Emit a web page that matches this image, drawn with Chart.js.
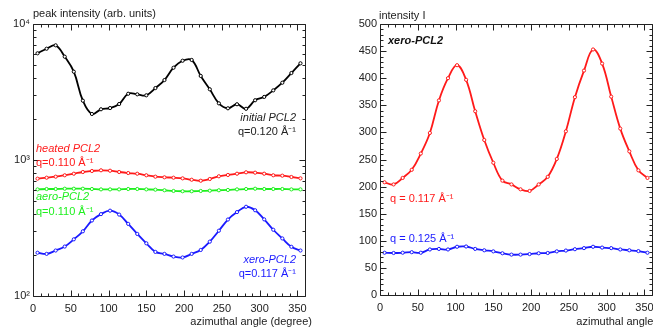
<!DOCTYPE html>
<html>
<head>
<meta charset="utf-8">
<title>PCL2 azimuthal profiles</title>
<script src="https://cdn.jsdelivr.net/npm/chart.js@4.4.1/dist/chart.umd.min.js"></script>
<style>
  html, body { margin: 0; padding: 0; background: #fff; }
  #wrap { position: relative; width: 653px; height: 328px; overflow: hidden; }
  #left { position: absolute; left: 0; top: 0; }
  #right { position: absolute; left: 330px; top: 0; }
</style>
</head>
<body>
<div id="wrap">
  <canvas id="left" width="330" height="328"></canvas>
  <canvas id="right" width="380" height="328"></canvas>
</div>
<script>
// azimuthal angle of each point (degree)
var angles = [6, 18, 30, 42, 54, 66, 78, 90, 102, 114, 126, 138, 150, 162, 174,
              186, 198, 210, 222, 234, 246, 258, 270, 282, 294, 306, 318, 330, 342, 354];

// peak intensities (arb. units), left panel
var initialPCL2 = [6090, 6580, 6970, 5750, 4460, 2730, 2180, 2360, 2410, 2580, 3070, 3040, 2990, 3380, 3870,
                   4770, 5370, 5440, 4150, 3310, 2610, 2400, 2570, 2380, 2750, 2910, 3250, 3700, 4360, 5140];
var heatedPCL2 = [729, 741, 754, 772, 793, 816, 830, 840, 834, 816, 802, 793, 772, 754, 746,
                  741, 733, 716, 704, 725, 759, 776, 793, 812, 807, 793, 772, 767, 750, 733];
var aeroPCL2 = [608, 612, 612, 615, 615, 615, 612, 608, 608, 608, 612, 612, 608, 605, 599,
                592, 589, 589, 592, 595, 599, 602, 608, 612, 615, 612, 612, 612, 608, 608];

// xero-PCL2 intensity I, q = 0.117 (both panels) and q = 0.125 (right panel)
var xeroQ117 = [208, 204, 216, 231, 261, 299, 359, 400, 424, 397, 339, 286, 244, 211, 204,
                195, 192, 204, 218, 251, 302, 365, 414, 453, 427, 366, 307, 265, 230, 216];
var xeroQ125 = [78, 77.5, 78, 79, 78, 84, 85, 84, 89, 89.5, 85, 82.5, 80.5, 77, 74.5,
                74.5, 75.5, 77, 77.5, 80.5, 82, 84.5, 86.5, 89, 87.5, 86.5, 84, 82.5, 81, 78];

var logTicks = [100, 1000, 10000];
var xTickStep = 50;

var FONT = '"Liberation Sans", Arial, Helvetica, sans-serif';
var INK = '#222';
var RED = '#ff1a1a', GREEN = '#1ef01e', BLUE = '#1a1aff';

Chart.defaults.font.family = FONT;
Chart.defaults.font.size = 11;
Chart.defaults.color = INK;

// minimal helper in place of underscore
var _ = {each: function (list, fn) { (list || []).forEach(fn); }};

var points = function (vals) {
    return angles.map(function (a, i) { return {x: a, y: vals[i]}; });
};

var series = function (vals, color) {
    return {
        data: points(vals),
        borderColor: color,
        borderWidth: 1.8,
        tension: 0.4,
        pointRadius: 1.6,
        pointBorderWidth: 1,
        pointBorderColor: color,
        pointBackgroundColor: '#fff'
    };
};

// frame with inward ticks on all four sides
var framePlugin = {
    id: 'frame',
    afterDraw: function (chart, args, opts) {
        var c = chart.ctx, a = chart.chartArea;
        var xs = chart.scales.x, ys = chart.scales.y;
        c.save();
        c.strokeStyle = INK;
        c.lineWidth = 1;
        c.beginPath();
        var tick = function (x1, y1, x2, y2) {
            c.moveTo(Math.round(x1) + 0.5, Math.round(y1) + 0.5);
            c.lineTo(Math.round(x2) + 0.5, Math.round(y2) + 0.5);
        };
        for (var v = 0; v <= 360; v += 10) {
            var px = xs.getPixelForValue(v);
            var len = v % 50 == 0 ? 6 : 3;
            tick(px, a.bottom, px, a.bottom - len);
            tick(px, a.top, px, a.top + len);
        }
        _.each(opts.yTicks, function (t) {
            var py = ys.getPixelForValue(t.v);
            tick(a.left, py, a.left + t.len, py);
            tick(a.right, py, a.right - t.len, py);
        });
        c.rect(Math.round(a.left) + 0.5, Math.round(a.top) + 0.5,
               Math.round(a.right - a.left), Math.round(a.bottom - a.top));
        c.stroke();
        c.restore();
    }
};

// free text labels
var textPlugin = {
    id: 'texts',
    afterDraw: function (chart, args, opts) {
        var c = chart.ctx;
        c.save();
        c.textBaseline = 'middle';
        _.each(opts.items, function (t) {
            c.font = (t.style || '') + ' 11px ' + FONT;
            c.fillStyle = t.color || INK;
            c.textAlign = t.align || 'left';
            c.fillText(t.text, t.x, t.y);
        });
        c.restore();
    }
};

var xAxis = function (h) {
    return {
        type: 'linear', min: 0, max: 360,
        grid: {display: false, drawTicks: false},
        border: {display: false},
        ticks: {stepSize: xTickStep, includeBounds: false, padding: 6, color: INK},
        afterFit: function (s) { s.height = h; }
    };
};

var leftYTicks = [];
logTicks.forEach(function (d, i) {
    leftYTicks.push({v: d, len: 6});
    if (i < logTicks.length - 1) {
        for (var m = 2; m <= 9; m++) leftYTicks.push({v: d * m, len: 3});
    }
});

var sup = {2: '\u00b2', 3: '\u00b3', 4: '\u2074'};

new Chart(document.getElementById('left'), {
    type: 'line',
    data: {
        datasets: [
            series(initialPCL2, '#000'),
            series(heatedPCL2, RED),
            series(aeroPCL2, GREEN),
            series(xeroQ117, BLUE)
        ]
    },
    options: {
        responsive: false,
        animation: false,
        layout: {padding: {top: 24, right: 25, left: 0, bottom: 0}},
        scales: {
            x: xAxis(32),
            y: {
                type: 'logarithmic', min: 100, max: 10000,
                grid: {display: false, drawTicks: false},
                border: {display: false},
                ticks: {
                    autoSkip: false, padding: 3, color: INK,
                    callback: function (v) {
                        var l = Math.log10(v);
                        if (Math.abs(l - Math.round(l)) < 1e-9) return '10' + sup[Math.round(l)];
                        return null;
                    }
                },
                afterFit: function (s) { s.width = 33; }
            }
        },
        plugins: {
            legend: {display: false},
            tooltip: {enabled: false},
            frame: {yTicks: leftYTicks},
            texts: {
                items: [
                    {text: 'peak intensity (arb. units)', x: 33, y: 14},
                    {text: 'initial PCL2', x: 296, y: 118, align: 'right', style: 'italic'},
                    {text: 'q=0.120 \u00c5\u207b\u00b9', x: 296, y: 132, align: 'right'},
                    {text: 'heated PCL2', x: 36, y: 149, color: RED, style: 'italic'},
                    {text: 'q=0.110 \u00c5\u207b\u00b9', x: 36, y: 163, color: RED},
                    {text: 'aero-PCL2', x: 36, y: 197, color: GREEN, style: 'italic'},
                    {text: 'q=0.110 \u00c5\u207b\u00b9', x: 36, y: 212, color: GREEN},
                    {text: 'xero-PCL2', x: 296, y: 260, color: BLUE, align: 'right', style: 'italic'},
                    {text: 'q=0.117 \u00c5\u207b\u00b9', x: 296, y: 274, color: BLUE, align: 'right'},
                    {text: 'azimuthal angle (degree)', x: 312, y: 322, align: 'right'}
                ]
            }
        }
    },
    plugins: [framePlugin, textPlugin]
});

var rightYTicks = [];
for (var v = 0; v <= 500; v += 10) rightYTicks.push({v: v, len: v % 50 == 0 ? 6 : 3});

new Chart(document.getElementById('right'), {
    type: 'line',
    data: {
        datasets: [
            series(xeroQ117, RED),
            series(xeroQ125, BLUE)
        ]
    },
    options: {
        responsive: false,
        animation: false,
        layout: {padding: {top: 24, right: 58, left: 0, bottom: 0}},
        scales: {
            x: xAxis(33),
            y: {
                type: 'linear', min: 0, max: 500,
                grid: {display: false, drawTicks: false},
                border: {display: false},
                ticks: {stepSize: 50, padding: 3, color: INK},
                afterFit: function (s) { s.width = 50; }
            }
        },
        plugins: {
            legend: {display: false},
            tooltip: {enabled: false},
            frame: {yTicks: rightYTicks},
            texts: {
                items: [
                    {text: 'intensity I', x: 49, y: 16},
                    {text: 'xero-PCL2', x: 58, y: 41, style: 'italic bold', color: '#111'},
                    {text: 'q = 0.117 \u00c5\u207b\u00b9', x: 60, y: 199, color: RED},
                    {text: 'q = 0.125 \u00c5\u207b\u00b9', x: 60, y: 239, color: BLUE},
                    {text: 'azimuthal angle (degree)', x: 368, y: 322, align: 'right'}
                ]
            }
        }
    },
    plugins: [framePlugin, textPlugin]
});
</script>
</body>
</html>
